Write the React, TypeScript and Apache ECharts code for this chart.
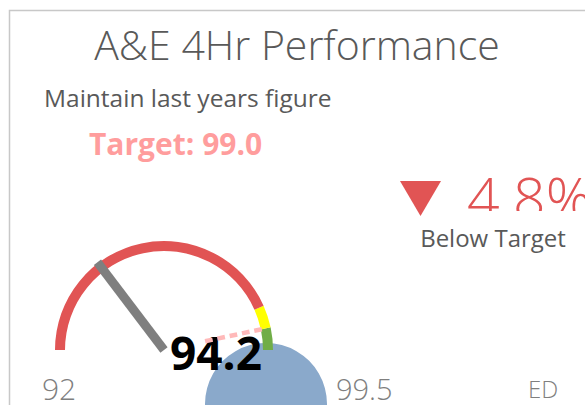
import React, { useEffect, useRef } from "react";
import * as echarts from "echarts";

const chartTitle = "A&E 4Hr Performance";
const subTitle = "Maintain last years figure";
const axisMin = 92;
const axisMax = 99.5;
const actualValues = [94.2];
const targetValues = [99.0];
const bandUpper = [98.5, 99.0, 99.5];
const bandColors = ["#E15454", "#FFFF00", "#70AD47"];
const statusLabel = "Below Target";
const areaLabel = "ED";

export default function App() {
  const ref = useRef<HTMLDivElement>(null);
  useEffect(() => {
    document.body.style.margin = "0";
    const chart = echarts.init(ref.current!, null, { renderer: "svg" });
    const actual = actualValues[0];
    const target = targetValues[0];
    const range = axisMax - axisMin;
    const variance = (((target - actual) / target) * 100).toFixed(1) + "%";
    const font = "'Open Sans', 'Noto Sans', sans-serif";

    // dashed pointer path
    let dash = "";
    for (let y = 0; y < 58; y += 13) {
      dash += `M0,${y}h4v8h-4z `;
    }

    chart.setOption({
      animation: false,
      backgroundColor: "#ffffff",
      graphic: [
        {
          type: "rect",
          z: 0,
          shape: { x: 9.5, y: 10.5, width: 620, height: 420 },
          style: { fill: "none", stroke: "#C8C8C8", lineWidth: 1.5 },
        },
        {
          type: "text",
          x: 297,
          y: 44,
          style: {
            text: chartTitle,
            fill: "#595959",
            fontSize: 41,
            fontWeight: 300,
            fontFamily: font,
            align: "center",
            verticalAlign: "middle",
          },
        },
        {
          type: "text",
          x: 44,
          y: 97,
          style: {
            text: subTitle,
            fill: "#595959",
            fontSize: 24.5,
            fontFamily: font,
            align: "left",
            verticalAlign: "middle",
          },
        },
        {
          type: "text",
          x: 89,
          y: 143,
          style: {
            text: "Target: " + target.toFixed(1),
            fill: "#FF9D9D",
            fontSize: 30,
            fontWeight: "bold",
            fontFamily: font,
            align: "left",
            verticalAlign: "middle",
          },
        },
        {
          type: "polygon",
          shape: { points: [[400, 181], [441, 181], [420.5, 216]] },
          style: { fill: "#E15454" },
        },
        {
          type: "text",
          x: 467,
          y: 168,
          z: 5,
          style: {
            text: variance,
            fill: "#E15454",
            fontSize: 57,
            fontWeight: 300,
            fontFamily: font,
            align: "left",
            verticalAlign: "top",
          },
        },
        {
          type: "rect",
          z: 6,
          shape: { x: 455, y: 211, width: 140, height: 70 },
          style: { fill: "#ffffff" },
        },
        {
          type: "text",
          x: 493,
          y: 237,
          z: 7,
          style: {
            text: statusLabel,
            fill: "#595959",
            fontSize: 24,
            fontFamily: font,
            align: "center",
            verticalAlign: "middle",
          },
        },
        {
          type: "circle",
          z: 1,
          shape: { cx: 266, cy: 404, r: 61 },
          style: { fill: "#8AA9CB" },
        },
        {
          type: "text",
          x: 59,
          y: 388,
          style: {
            text: String(axisMin),
            fill: "#7F7F7F",
            fontSize: 30,
            fontWeight: 300,
            fontFamily: font,
            align: "center",
            verticalAlign: "middle",
          },
        },
        {
          type: "text",
          x: 336,
          y: 388,
          style: {
            text: String(axisMax),
            fill: "#7F7F7F",
            fontSize: 29,
            fontWeight: 300,
            fontFamily: font,
            align: "left",
            verticalAlign: "middle",
          },
        },
        {
          type: "text",
          x: 528,
          y: 388,
          style: {
            text: areaLabel,
            fill: "#7F7F7F",
            fontSize: 24,
            fontWeight: 300,
            fontFamily: font,
            align: "left",
            verticalAlign: "middle",
          },
        },
      ],
      series: [
        {
          type: "gauge",
          z: 3,
          center: [164, 350],
          radius: 109,
          startAngle: 180,
          endAngle: 0,
          min: axisMin,
          max: axisMax,
          axisLine: {
            lineStyle: {
              width: 10,
              color: bandUpper.map((v, i) => [(v - axisMin) / range, bandColors[i]]),
            },
          },
          splitLine: { show: false },
          axisTick: { show: false },
          axisLabel: { show: false },
          anchor: { show: false },
          title: { show: false },
          pointer: {
            icon: "rect",
            width: 9,
            length: 110,
            itemStyle: { color: "#7F7F7F" },
          },
          detail: {
            offsetCenter: [52, 2],
            fontSize: 46,
            fontWeight: "bold",
            fontFamily: font,
            color: "#000000",
            formatter: (v: number) => v.toFixed(1),
          },
          data: [{ value: actual }],
        },
        {
          type: "gauge",
          z: 4,
          center: [164, 350],
          radius: 109,
          startAngle: 180,
          endAngle: 0,
          min: axisMin,
          max: axisMax,
          axisLine: { show: false },
          splitLine: { show: false },
          axisTick: { show: false },
          axisLabel: { show: false },
          anchor: { show: false },
          title: { show: false },
          detail: { show: false },
          pointer: {
            icon: "path://" + dash,
            width: 4.5,
            length: 58,
            offsetCenter: [0, -42],
            itemStyle: { color: "#FFB9B9" },
          },
          data: [{ value: target }],
        },
      ],
    });
    return () => chart.dispose();
  }, []);
  return <div ref={ref} style={{ width: 585, height: 405 }} />;
}
